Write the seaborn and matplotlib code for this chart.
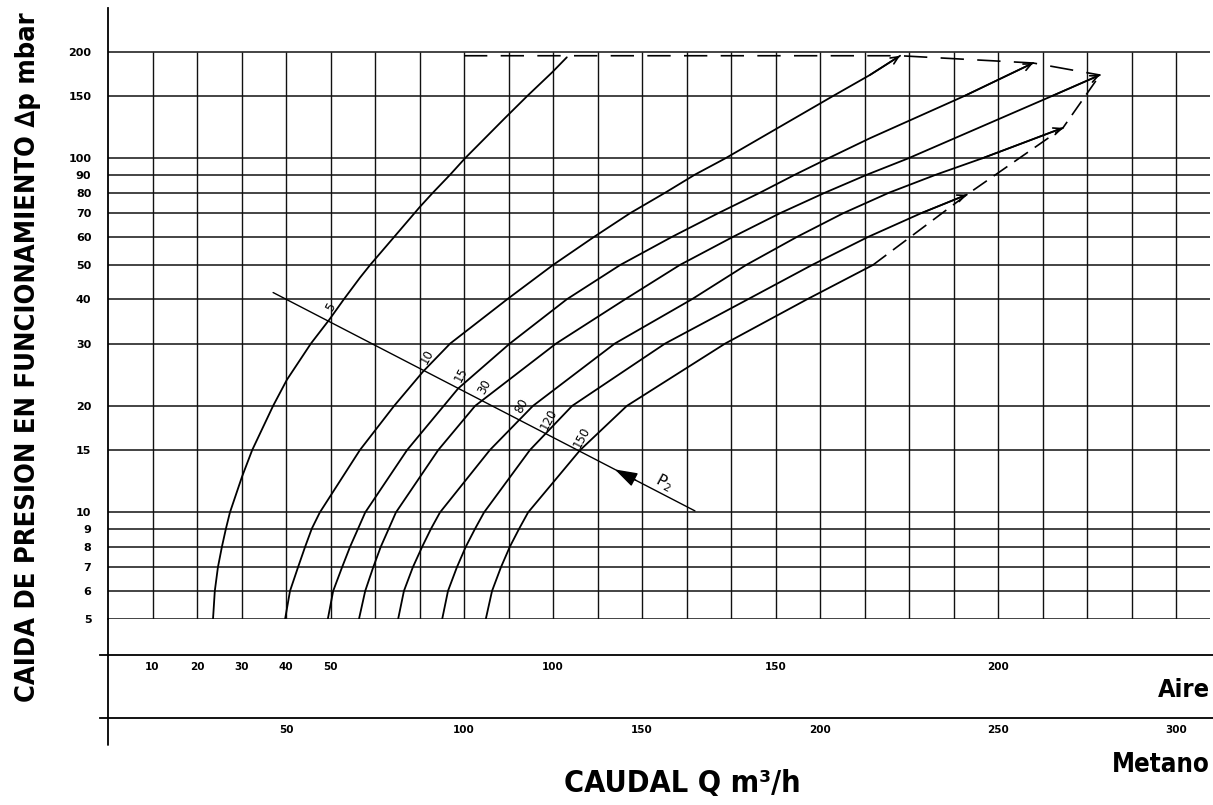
import numpy as np
import pandas as pd
import matplotlib
matplotlib.use('Agg')
import matplotlib.pyplot as plt
from matplotlib import font_manager as fm
import seaborn as sns

# --- lecturas del abaco: caudal de aire (m3/h) vs caida de presion (mbar) ---
p2_labels = ['5', '10', '15', '30', '80', '120', '150']

dp_p5 = [5, 6, 7, 8, 9, 10, 12.6, 15, 20, 23.7, 30, 35, 40, 46, 50, 60, 73, 80, 90,
         100, 130, 150, 175, 193]
q_p5 = [23.6, 24.0, 24.7, 25.6, 26.5, 27.4, 30.1, 32.4, 37.1, 40.2, 45.6, 49.7, 53.0,
        56.6, 58.9, 64.3, 70.1, 73.0, 76.9, 80.2, 89.2, 94.2, 99.8, 103.1]

dp_p10 = [5, 6, 7, 8, 9, 10, 15, 20, 25, 30, 40, 50, 60, 70, 80, 90, 100, 150, 172, 195]
q_p10 = [39.8, 40.9, 42.7, 44.3, 45.8, 47.6, 56.6, 64.3, 70.8, 76.9, 89.7, 100.0, 109.2,
         117.3, 125.2, 131.9, 138.7, 162.9, 171.2, 178.0]

dp_p15 = [5, 6, 7, 8, 9, 10, 15, 22.4, 30, 40, 50, 60, 70, 80, 90, 100, 114, 150, 186]
q_p15 = [49.4, 50.6, 52.6, 54.4, 56.2, 57.8, 67.2, 78.7, 90.3, 103.1, 115.1, 126.7,
         137.1, 146.5, 154.4, 161.8, 171.2, 192.4, 207.9]

dp_p30 = [5, 6, 7, 8, 9, 10, 15, 20, 30, 40, 50, 60, 70, 80, 90, 100, 150, 172]
q_p30 = [56.4, 57.8, 59.6, 61.3, 63.1, 64.7, 74.2, 82.5, 100.7, 116.2, 128.5, 140.4,
         151.0, 161.1, 170.6, 179.8, 212.1, 222.9]

dp_p80 = [5, 6, 7, 8, 9, 10, 15, 20, 30, 40, 50, 60, 70, 80, 90, 100, 122]
q_p80 = [65.2, 66.5, 68.5, 70.6, 72.6, 74.6, 85.8, 95.5, 113.9, 131.2, 143.4, 154.8,
         165.2, 175.5, 186.1, 196.4, 214.6]

dp_p120 = [5, 6, 7, 8, 9, 10, 15, 20, 30, 40, 50, 60, 70, 79]
q_p120 = [75.1, 76.4, 78.4, 80.4, 82.5, 84.5, 94.8, 104.3, 125.2, 143.8, 158.2, 170.8,
          182.7, 193.0]

dp_p150 = [5, 6, 7, 8, 9, 10, 15, 20, 30, 40, 50]
q_p150 = [84.9, 86.3, 88.3, 90.3, 92.4, 94.4, 106.1, 116.6, 138.7, 157.1, 171.9]

curves_dp = [dp_p5, dp_p10, dp_p15, dp_p30, dp_p80, dp_p120, dp_p150]
curves_q = [q_p5, q_p10, q_p15, q_p30, q_p80, q_p120, q_p150]

# limite (linea de trazos): nivel superior y arranque
env_start_q = 80
env_level = 195

# recta de lectura P2
p2_line_q = [37.1, 131.9]
p2_line_dp = [41.8, 10.1]

y_ticks = [5, 6, 7, 8, 9, 10, 15, 20, 30, 40, 50, 60, 70, 80, 90, 100, 150, 200]
aire_labels = [10, 20, 30, 40, 50, 100, 150, 200]
aire_minor = list(range(10, 250, 10))
metano_labels = [50, 100, 150, 200, 250, 300]
metano_minor = list(range(10, 310, 10))
metano_factor = 1.25

# --- geometria (pixeles de la figura) ---
W_PX, H_PX = 1213, 805
X0_PX, PX_PER_Q = 108, 4.45


def fx(px):
    return px / W_PX


def fy(py):
    return 1 - py / H_PX


def q_at(px):
    return (px - X0_PX) / PX_PER_Q


def pick_condensed():
    # busca una fuente condensada y negrita entre las instaladas
    for key in ['condensed', 'semicondensed', 'narrow', 'extracondensed']:
        for f in fm.fontManager.ttflist:
            name = (f.fname.split('/')[-1]).lower().replace('-', '').replace('_', '')
            w = f.weight if isinstance(f.weight, int) else 700 if 'bold' in str(f.weight) else 400
            if key in name and w == 700 and 'italic' not in name and 'oblique' not in name:
                if key == 'condensed' and ('extracondensed' in name or 'semicondensed' in name):
                    continue
                if 'extrabold' in name or 'semibold' in name:
                    continue
                return fm.FontProperties(fname=f.fname)
    return fm.FontProperties(family='DejaVu Sans', weight='bold')


sns.set_style('white')
plt.rcParams['font.family'] = ['DejaVu Sans']
for k in ['text.color', 'axes.labelcolor', 'xtick.color', 'ytick.color', 'axes.edgecolor']:
    plt.rcParams[k] = 'black'
cond = pick_condensed()

fig = plt.figure(figsize=(W_PX / 100, H_PX / 100), dpi=100)

ax = fig.add_axes([fx(108), fy(619), fx(1210) - fx(108), fy(8) - fy(619)])
ax.set_yscale('log')
ax.set_xlim(0, q_at(1210))
ax.set_ylim(5, 266)

# reticula
ax.hlines(y_ticks, 0, q_at(1210), color='#111111', lw=1.1, zorder=1)
ax.vlines(aire_minor, 5, 200, color='#111111', lw=1.0, zorder=1)

# curvas
rows = []
for lab, dps, qs in zip(p2_labels, curves_dp, curves_q):
    for d, q in zip(dps, qs):
        rows.append({'p2': lab, 'q': q, 'dp': d})
df = pd.DataFrame(rows)
sns.lineplot(data=df, x='q', y='dp', hue='p2', palette=['black'] * len(p2_labels),
             sort=False, estimator=None, legend=False, lw=1.3, ax=ax, zorder=3)

# flechas al final de las curvas
for qs, dps in zip(curves_q[1:6], curves_dp[1:6]):
    ax.annotate('', xy=(qs[-1], dps[-1]), xytext=(qs[-2], dps[-2]),
                arrowprops=dict(arrowstyle='->,head_length=0.55,head_width=0.25',
                                color='black', lw=1.2, shrinkA=0, shrinkB=0))

# limite de trazos
top_q = [env_start_q, q_p10[-1], q_p15[-1], q_p30[-1]]
top_dp = [env_level, env_level, dp_p15[-1], dp_p30[-1]]
side_q = [q_p150[-1], q_p120[-1], q_p80[-1], q_p30[-1]]
side_dp = [dp_p150[-1], dp_p120[-1], dp_p80[-1], dp_p30[-1]]
ax.plot(top_q, top_dp, color='black', lw=1.2, ls=(0, (14, 8)), zorder=3)
ax.plot(side_q, side_dp, color='black', lw=1.2, ls=(0, (10, 5)), zorder=3)

# recta P2 y rotulos
ax.plot(p2_line_q, p2_line_dp, color='black', lw=1.0, zorder=3)
t = np.linspace(0, 1, 4001)
lq = p2_line_q[0] + t * (p2_line_q[1] - p2_line_q[0])
ly = np.log10(p2_line_dp[0]) + t * (np.log10(p2_line_dp[1]) - np.log10(p2_line_dp[0]))
for lab, dps, qs in zip(p2_labels, curves_dp, curves_q):
    cq = np.interp(ly, np.log10(dps), qs)
    diff = lq - cq
    i = np.where(np.diff(np.sign(diff)) != 0)[0][0]
    ax.annotate(lab, xy=(lq[i], 10 ** ly[i]), xytext=(2, 10), textcoords='offset points',
                rotation=62, ha='center', va='center', fontsize=8.5)


def p2_point(tt):
    return (p2_line_q[0] + tt * (p2_line_q[1] - p2_line_q[0]),
            10 ** (np.log10(p2_line_dp[0]) + tt * (np.log10(p2_line_dp[1]) - np.log10(p2_line_dp[0]))))


ax.annotate('', xy=p2_point(0.81), xytext=p2_point(0.86),
            arrowprops=dict(arrowstyle='-|>,head_length=1.4,head_width=0.45',
                            color='black', lw=1.0, shrinkA=0, shrinkB=0))
ax.annotate('P$_2$', xy=p2_point(0.92), xytext=(2, 8), textcoords='offset points',
            rotation=-28, ha='center', va='center', fontsize=11)

# ejes
for s in ['top', 'right', 'bottom']:
    ax.spines[s].set_visible(False)
ax.spines['left'].set_linewidth(1.3)
ax.set_xticks([])
ax.set_yticks(y_ticks)
ax.set_yticklabels([str(v) for v in y_ticks], fontweight='bold', fontsize=8)
ax.yaxis.set_minor_locator(matplotlib.ticker.NullLocator())
ax.tick_params(axis='y', length=0, pad=12)
ax.set_xlabel('')
ax.set_ylabel('')
ax.patch.set_visible(False)

fig.add_artist(plt.Line2D([fx(108), fx(108)], [fy(745), fy(619)], color='black', lw=1.3))


def scale_axis(py, factor, major, minor):
    a = fig.add_axes([fx(100), fy(py), fx(1213) - fx(100), 0.0005])
    a.set_xlim(q_at(100) * factor, q_at(1213) * factor)
    for s in ['top', 'right', 'left']:
        a.spines[s].set_visible(False)
    a.spines['bottom'].set_linewidth(1.3)
    a.set_yticks([])
    a.set_xticks(major)
    a.set_xticklabels([str(v) for v in major], fontweight='bold', fontsize=7.5)
    a.set_xticks(minor, minor=True)
    a.tick_params(axis='x', which='both', direction='inout', length=6, width=1.0, pad=2)
    a.patch.set_visible(False)
    return a


scale_axis(655, 1.0, aire_labels, aire_minor)
scale_axis(718, metano_factor, metano_labels, metano_minor)

# textos en fuente condensada, ajustados al largo del original
renderer = fig.canvas.get_renderer()


def fitted_text(x, y, s, length_px, size, rotation=0, ha='center'):
    txt = fig.text(fx(x), fy(y), s, ha=ha, va='center', rotation=rotation,
                   fontproperties=cond.copy(), fontsize=size)
    bb = txt.get_window_extent(renderer)
    cur = bb.height if rotation else bb.width
    txt.set_fontsize(min(size * 1.2, size * length_px / cur))
    return txt


fitted_text(1210, 690, 'Aire', 52, 18, ha='right')
fitted_text(1210, 765, 'Metano', 98, 18, ha='right')
fitted_text(682, 783, 'CAUDAL Q m³/h', 236, 22)
fitted_text(28, 357, 'CAIDA DE PRESION EN FUNCIONAMIENTO ∆p mbar', 686, 21, rotation=90)

fig.savefig('out.png', dpi=100)
